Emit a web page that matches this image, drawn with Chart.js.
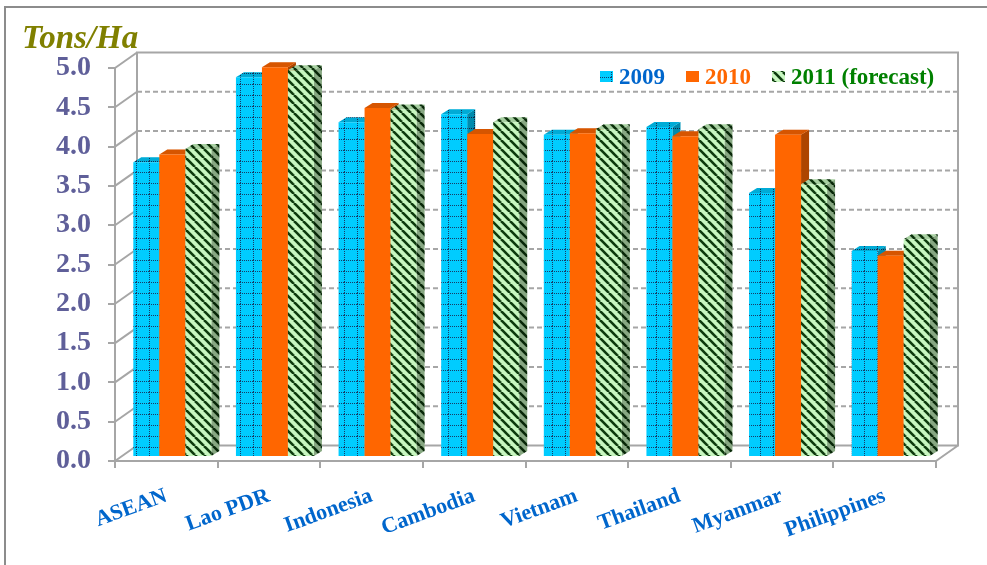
<!DOCTYPE html>
<html>
<head>
<meta charset="utf-8">
<script src="https://cdn.jsdelivr.net/npm/chart.js@4.4.0/dist/chart.umd.min.js"></script>
<style>
  body { margin: 0; background: #fff; }
  canvas { display: block; }
</style>
</head>
<body>
<canvas id="yield" width="987" height="565"></canvas>
<script>
const categories = ["ASEAN", "Lao PDR", "Indonesia", "Cambodia", "Vietnam", "Thailand", "Myanmar", "Philippines"];
const yield2009 = [3.75, 4.83, 4.26, 4.36, 4.10, 4.20, 3.36, 2.62];
const yield2010 = [3.85, 4.96, 4.44, 4.11, 4.12, 4.08, 4.10, 2.56];
const yield2011 = [3.92, 4.92, 4.42, 4.26, 4.17, 4.17, 3.47, 2.77];
const seriesLabels = ["2009", "2010", "2011 (forecast)"];
const legendColors = ["#0066cc", "#ff6600", "#008000"];
const yTicks = [0, 0.5, 1, 1.5, 2, 2.5, 3, 3.5, 4, 4.5, 5];

const serif = "'Liberation Serif', 'Times New Roman', serif";
const lineGray = "#a6a6a6";

// depth offsets for the fake 3d look
const wallDepth = { dx: 22, dy: -15.5 };
const barShift = { dx: 6, dy: -4 };
const barDepth = { dx: 8, dy: -5 };

const ctx = document.getElementById("yield").getContext("2d");

function makeTile(w, h, draw) {
  const c = document.createElement("canvas");
  c.width = w;
  c.height = h;
  draw(c.getContext("2d"));
  return ctx.createPattern(c, "repeat");
}

const gridPattern = makeTile(13, 11, g => {
  g.fillStyle = "#00ccff";
  g.fillRect(0, 0, 13, 11);
  g.fillStyle = "#173b66";
  for (let i = 0; i < 13; i += 2) g.fillRect(i, 0, 1, 1);
  for (let j = 0; j < 11; j += 2) g.fillRect(0, j, 1, 1);
});

const stripePattern = makeTile(9, 9, g => {
  g.fillStyle = "#c8f7c0";
  g.fillRect(0, 0, 9, 9);
  g.strokeStyle = "#0d3a0d";
  g.lineWidth = 2.6;
  for (let k = -9; k <= 9; k += 9) {
    g.beginPath();
    g.moveTo(k, 0);
    g.lineTo(k + 9, 9);
    g.stroke();
  }
});

const fills = [gridPattern, "#ff6600", stripePattern];

function poly(c, pts, fill, shade) {
  c.beginPath();
  c.moveTo(pts[0][0], pts[0][1]);
  for (let i = 1; i < pts.length; i++) c.lineTo(pts[i][0], pts[i][1]);
  c.closePath();
  c.fillStyle = fill;
  c.fill();
  if (shade) {
    c.fillStyle = shade;
    c.fill();
  }
}

const walls = {
  id: "walls",
  beforeDraw(chart) {
    const c = chart.ctx;
    c.save();
    c.strokeStyle = "#8c8c8c";
    c.lineWidth = 2;
    c.beginPath();
    c.moveTo(5, chart.height);
    c.lineTo(5, 7);
    c.lineTo(chart.width, 7);
    c.stroke();

    c.fillStyle = "#808000";
    c.font = "italic bold 33px " + serif;
    c.textBaseline = "alphabetic";
    c.fillText("Tons/Ha", 22, 48);
    c.restore();
  },
  beforeDatasetsDraw(chart) {
    const c = chart.ctx;
    const y = chart.scales.y;
    const a = chart.chartArea;
    const dx = wallDepth.dx, dy = wallDepth.dy;
    const yb = y.getPixelForValue(0), yt = y.getPixelForValue(5);
    c.save();
    c.strokeStyle = lineGray;
    c.lineWidth = 2;
    // dashed grid on the back wall
    c.setLineDash([5, 3]);
    yTicks.forEach(v => {
      if (v === 0 || v === 5) return;
      const py = y.getPixelForValue(v) + dy;
      c.beginPath();
      c.moveTo(a.left + dx, py);
      c.lineTo(a.right + dx, py);
      c.stroke();
    });
    c.setLineDash([]);
    // left wall diagonals
    yTicks.forEach(v => {
      const py = y.getPixelForValue(v);
      c.beginPath();
      c.moveTo(a.left, py);
      c.lineTo(a.left + dx, py + dy);
      c.stroke();
    });
    c.beginPath();
    c.moveTo(a.left + dx, yb + dy);
    c.lineTo(a.left + dx, yt + dy);
    c.lineTo(a.right + dx, yt + dy);
    c.lineTo(a.right + dx, yb + dy);
    c.lineTo(a.left + dx, yb + dy);
    c.moveTo(a.right, yb);
    c.lineTo(a.right + dx, yb + dy);
    c.stroke();
    c.restore();
  },
  // bars are drawn below, in series order, so each front covers the side of the one before
  beforeDatasetDraw() {
    return false;
  },
  afterDatasetsDraw(chart) {
    const c = chart.ctx;
    const bx = barDepth.dx, by = barDepth.dy;
    c.save();
    c.translate(barShift.dx, barShift.dy);
    chart.data.datasets.forEach((ds, i) => {
      const meta = chart.getDatasetMeta(i);
      meta.data.forEach(bar => {
        const l = bar.x - bar.width / 2, r = bar.x + bar.width / 2;
        poly(c, [[r, bar.y], [r + bx, bar.y + by], [r + bx, bar.base + by], [r, bar.base]], fills[i], "rgba(0,0,0,0.32)");
        poly(c, [[l, bar.y], [l + bx, bar.y + by], [r + bx, bar.y + by], [r, bar.y]], fills[i], "rgba(0,0,0,0.16)");
        bar.draw(c);
      });
    });
    c.restore();
  },
  afterDraw(chart) {
    const c = chart.ctx;
    c.save();
    c.font = "bold 23px " + serif;
    c.textBaseline = "alphabetic";
    let x = 600;
    seriesLabels.forEach((label, i) => {
      c.fillStyle = fills[i];
      c.fillRect(x, 71, 13, 11);
      x += 19;
      c.fillStyle = legendColors[i];
      c.fillText(label, x, 84);
      x += c.measureText(label).width + 21;
    });
    c.restore();
  }
};

new Chart(ctx, {
  type: "bar",
  data: {
    labels: categories,
    datasets: [
      { label: seriesLabels[0], data: yield2009, backgroundColor: gridPattern },
      { label: seriesLabels[1], data: yield2010, backgroundColor: "#ff6600" },
      { label: seriesLabels[2], data: yield2011, backgroundColor: stripePattern }
    ]
  },
  options: {
    responsive: false,
    animation: false,
    devicePixelRatio: 1,
    layout: { padding: { top: 68, right: 51, left: 0, bottom: 0 } },
    datasets: {
      bar: { barPercentage: 1, categoryPercentage: 0.76, borderWidth: 0 }
    },
    plugins: {
      legend: { display: false },
      tooltip: { enabled: false }
    },
    scales: {
      x: {
        offset: true,
        grid: { offset: true, drawOnChartArea: false, tickLength: 7, color: lineGray, lineWidth: 2 },
        border: { color: lineGray, width: 2 },
        ticks: {
          autoSkip: false,
          minRotation: 20,
          maxRotation: 20,
          padding: 15,
          color: "#0066cc",
          font: { family: serif, weight: "bold", size: 22 }
        },
        afterFit: s => { s.height = 104; }
      },
      y: {
        min: 0,
        max: 5,
        afterBuildTicks: s => { s.ticks = yTicks.map(v => ({ value: v })); },
        grid: { drawOnChartArea: false, tickLength: 7, color: lineGray, lineWidth: 2 },
        border: { color: lineGray, width: 2 },
        ticks: {
          padding: 17,
          color: "#5f5f99",
          font: { family: serif, weight: "bold", size: 28 },
          callback: v => v.toFixed(1)
        },
        afterFit: s => { s.width = 115; }
      }
    }
  },
  plugins: [walls]
});
</script>
</body>
</html>
